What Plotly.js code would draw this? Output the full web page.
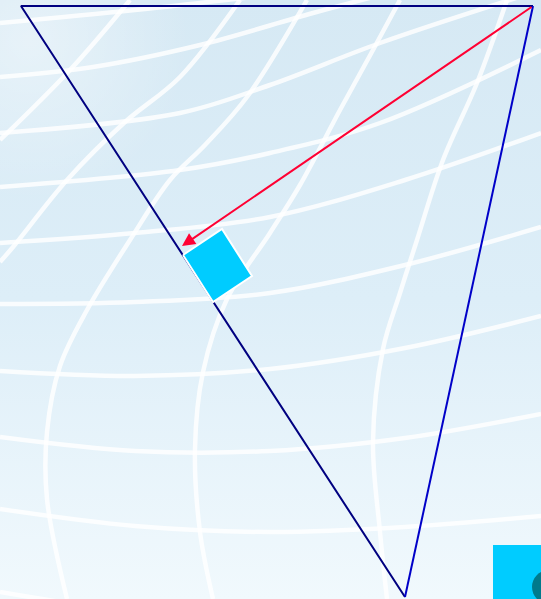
<!DOCTYPE html>
<html>
<head>
<meta charset="utf-8">
<script src="https://cdn.plot.ly/plotly-3.0.1.min.js"></script>
<style>html,body{margin:0;padding:0;overflow:hidden;background:#fff}#chart{width:541px;height:599px}</style>
</head>
<body>
<div id="chart"></div>
<script>
// ---- diagram data (pixel-like coordinate system, y grows downward) ----
const inclineX = [405, 21, 533];          // bottom vertex -> top-left -> top-right
const inclineY = [597, 6, 6];
const wallX = [533, 405];                  // right side of the wedge
const wallY = [6, 597];
const blockX = [183, 222, 252, 213];       // block resting on the incline
const blockY = [255, 229, 276, 302];
const forceTail = [533, 6];                // red force arrow
const forceHead = [182, 246];

// decorative globe grid in the background
const latitudes = [
  {x: [0, 135, 270], y: [23, 10, -5]},
  {x: [0, 93, 200, 313, 400], y: [77, 67, 45, 13, -10]},
  {x: [0, 180, 270, 380, 541], y: [133, 113, 85, 43, -10]},
  {x: [0, 180, 270, 380, 541], y: [187, 170, 153, 123, 50]},
  {x: [0, 135, 270, 405, 541], y: [243, 233, 217, 180, 133]},
  {x: [0, 135, 270, 405, 541], y: [304, 302, 293, 265, 227]},
  {x: [0, 135, 270, 405, 541], y: [371, 376, 369, 348, 316]},
  {x: [0, 135, 270, 405, 541], y: [437, 451, 451, 438, 414]},
  {x: [0, 135, 270, 405, 541], y: [509, 526, 532, 527, 516]},
  {x: [0, 135, 270, 405, 541], y: [592, 612, 620, 615, 605]}
];
const longitudes = [
  {x: [0, 70, 130], y: [140, 70, 0]},
  {x: [0, 13, 67, 125, 180, 240], y: [262, 247, 180, 122, 77, 0]},
  {x: [67, 47, 47, 60, 87, 130, 170, 205, 247, 307], y: [599, 499, 432, 366, 310, 240, 180, 145, 97, 0]},
  {x: [213, 200, 195, 203, 227, 270, 300, 340, 373, 400], y: [599, 532, 449, 372, 299, 233, 185, 110, 50, 0]},
  {x: [387, 380, 373, 383, 400, 417, 443, 477, 507], y: [599, 532, 442, 349, 293, 240, 160, 83, 0]}
];

// ---- background gradient image ----
const cv = document.createElement('canvas');
cv.width = 541; cv.height = 599;
const ctx = cv.getContext('2d');
const g = ctx.createLinearGradient(0, 0, 0, 599);
g.addColorStop(0, '#d6e9f4');
g.addColorStop(0.5, '#ddeef8');
g.addColorStop(1, '#f1f9fd');
ctx.fillStyle = g; ctx.fillRect(0, 0, 541, 599);
const rg = ctx.createRadialGradient(30, 40, 5, 30, 40, 160);
rg.addColorStop(0, 'rgba(255,255,255,0.4)');
rg.addColorStop(1, 'rgba(255,255,255,0)');
ctx.fillStyle = rg; ctx.fillRect(0, 0, 541, 599);
const bgURL = cv.toDataURL('image/png');

const gridLine = {color: 'rgba(255,255,255,0.82)', width: 4.5, shape: 'spline'};
const traces = [];
latitudes.concat(longitudes).forEach(l => traces.push({
  type: 'scatter', mode: 'lines', x: l.x, y: l.y,
  line: gridLine, hoverinfo: 'skip', showlegend: false
}));
traces.push({
  type: 'scatter', mode: 'lines', x: inclineX, y: inclineY,
  line: {color: '#000080', width: 2}, hoverinfo: 'skip', showlegend: false
});
traces.push({
  type: 'scatter', mode: 'lines', x: wallX, y: wallY,
  line: {color: '#0000c8', width: 2}, hoverinfo: 'skip', showlegend: false
});
traces.push({
  type: 'scatter', mode: 'lines', x: blockX.concat([blockX[0]]), y: blockY.concat([blockY[0]]),
  fill: 'toself', fillcolor: '#00ccff',
  line: {color: '#ffffff', width: 2}, hoverinfo: 'skip', showlegend: false
});

const layout = {
  width: 541, height: 599,
  margin: {l: 0, r: 0, t: 0, b: 0, pad: 0},
  paper_bgcolor: '#e2f1f9',
  plot_bgcolor: 'rgba(0,0,0,0)',
  xaxis: {range: [0, 541], visible: false, fixedrange: true},
  yaxis: {range: [599, 0], visible: false, fixedrange: true},
  showlegend: false,
  images: [{source: bgURL, xref: 'paper', yref: 'paper', x: 0, y: 1, sizex: 1, sizey: 1,
            sizing: 'stretch', xanchor: 'left', yanchor: 'top', layer: 'below'}],
  shapes: [
    {type: 'rect', xref: 'x', yref: 'y', x0: 493, x1: 545, y0: 545, y1: 603,
     fillcolor: '#00ccff', line: {width: 0}, layer: 'above'},
    {type: 'circle', xref: 'x', yref: 'y', x0: 532, x1: 566, y0: 570, y1: 604,
     fillcolor: '#007a8c', line: {width: 0}, layer: 'above'}
  ],
  annotations: [{
    x: forceHead[0], y: forceHead[1], ax: forceTail[0], ay: forceTail[1],
    xref: 'x', yref: 'y', axref: 'x', ayref: 'y',
    text: '', showarrow: true, arrowhead: 2, arrowsize: 1.3, arrowwidth: 2,
    arrowcolor: '#ff0033', standoff: 0, startstandoff: 0
  }]
};

Plotly.newPlot('chart', traces, layout, {staticPlot: true, displayModeBar: false});
</script>
</body>
</html>
